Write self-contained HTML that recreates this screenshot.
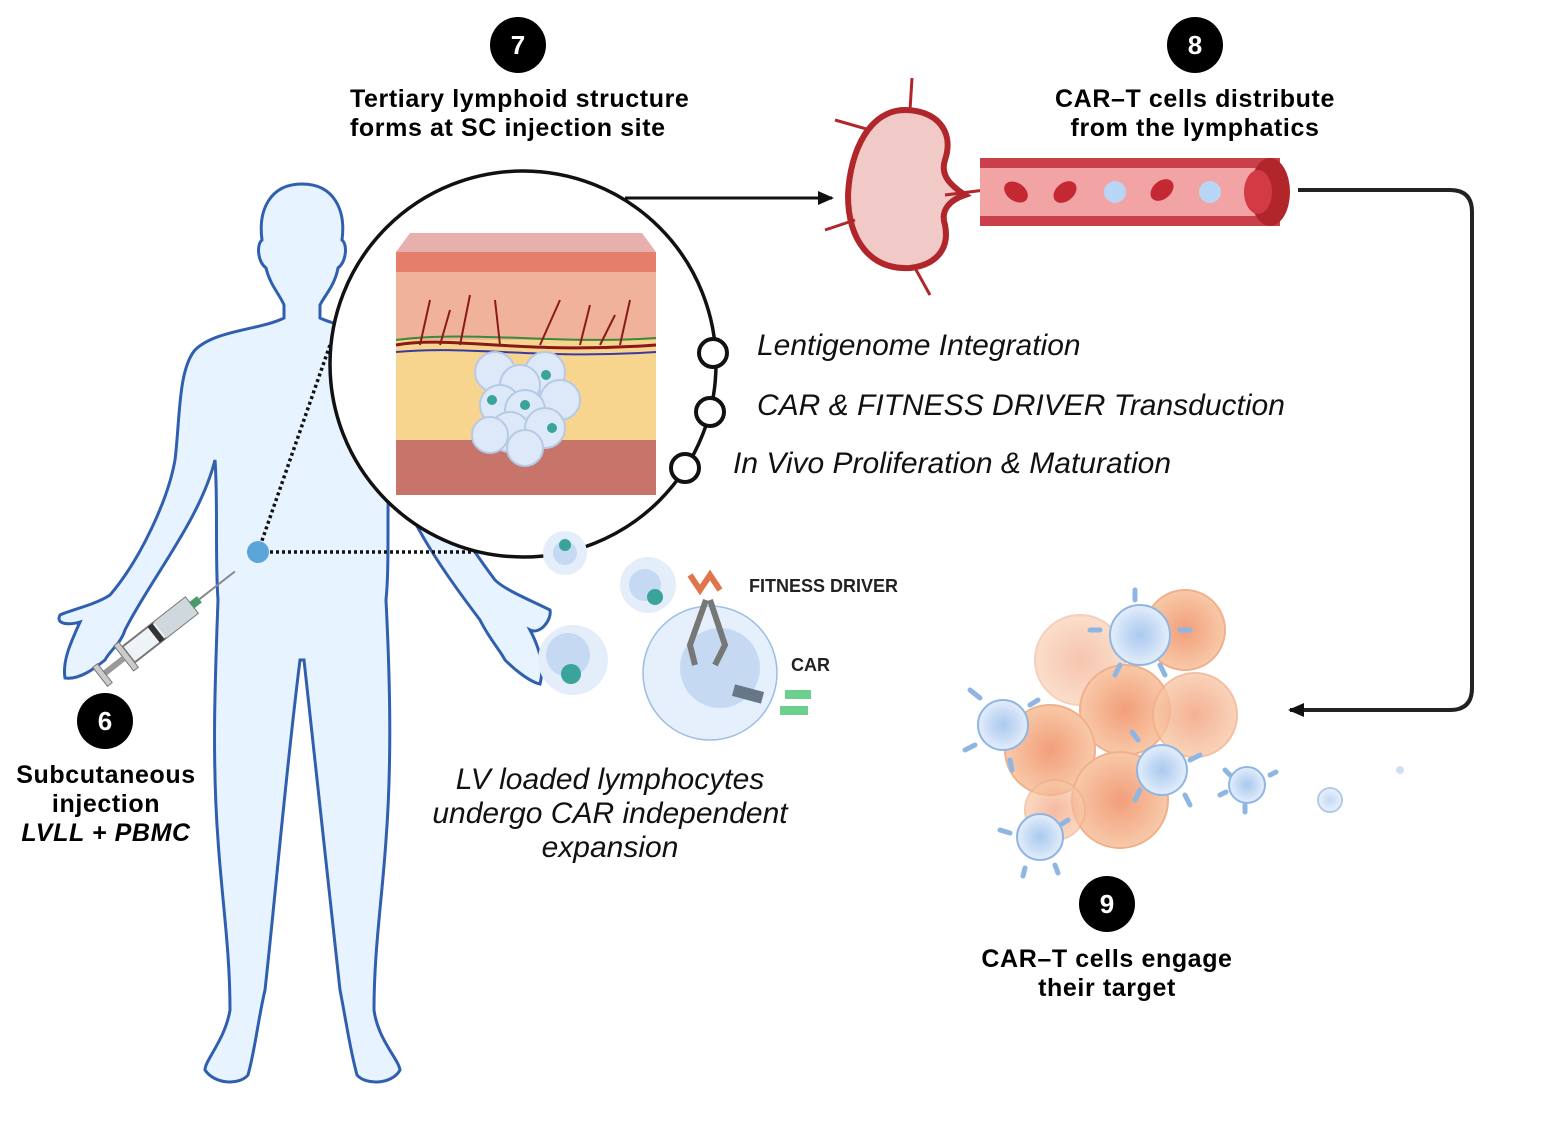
<!DOCTYPE html>
<html><head><meta charset="utf-8"><style>
html,body{margin:0;padding:0;background:#fff}
svg{display:block}
.b{font-family:"Liberation Sans",sans-serif;font-weight:bold;font-size:25px;letter-spacing:0.6px;fill:#000}
.i{font-family:"Liberation Sans",sans-serif;font-style:italic;font-size:30px;fill:#111}
.s{font-family:"Liberation Sans",sans-serif;font-weight:bold;font-size:18px;fill:#222}
</style></head><body>
<svg width="1547" height="1144" viewBox="0 0 1547 1144" xmlns="http://www.w3.org/2000/svg">
<defs>
<marker id="ah" markerWidth="16" markerHeight="14" refX="14" refY="7" orient="auto" markerUnits="userSpaceOnUse"><path d="M0,0 L16,7 L0,14 z" fill="#111"/></marker>
<radialGradient id="cell" cx="50%" cy="50%" r="50%"><stop offset="0" stop-color="#a9c9ef"/><stop offset="0.55" stop-color="#c8dcf5"/><stop offset="1" stop-color="#e4eefb"/></radialGradient>
<radialGradient id="tum" cx="50%" cy="50%" r="50%"><stop offset="0" stop-color="#f29e7a"/><stop offset="1" stop-color="#f8c9a8"/></radialGradient>
</defs>

<!-- body -->
<path d="M302,184 C270,184 258,210 262,240 C256,245 258,262 266,268 C270,285 280,295 284,305 L284,318 C260,330 215,330 195,350 C178,370 180,420 175,460 C168,500 140,560 110,595 C95,605 70,610 60,615 C55,625 70,625 80,622 C72,640 62,660 65,678 C80,680 95,668 105,660 C110,650 120,645 125,630 C150,580 200,520 215,460 C218,500 215,560 218,600 C215,680 212,760 218,840 C222,900 230,950 230,1010 C225,1040 205,1060 205,1070 C215,1085 240,1085 248,1075 C255,1050 258,1020 265,990 C275,900 285,780 300,660 L304,660 C318,780 330,900 340,990 C346,1020 350,1050 357,1075 C365,1085 392,1085 400,1070 C398,1058 378,1040 374,1010 C374,950 382,900 386,840 C392,760 390,680 386,600 C390,560 386,500 390,460 C405,520 450,580 480,620 C490,640 500,650 505,660 C515,670 530,682 540,684 C545,665 538,645 530,630 C540,635 552,620 550,610 C530,600 505,590 495,580 C465,540 440,500 430,460 C425,420 428,370 410,350 C390,330 345,330 320,318 L320,305 C325,295 335,285 338,268 C346,262 348,245 342,240 C346,210 334,184 302,184 Z" fill="#e7f3fe" stroke="#2f5fae" stroke-width="3"/>

<path d="M258,552 L475,552" stroke="#111" stroke-width="3.5" stroke-dasharray="3,3" fill="none"/>
<path d="M258,552 L330,345" stroke="#111" stroke-width="3.5" stroke-dasharray="3,3" fill="none"/>
<circle cx="258" cy="552" r="11" fill="#5aa6d8"/>

<g transform="translate(160,630) rotate(-38)">
<rect x="-40" y="-10" width="80" height="20" fill="#eef3f6" stroke="#777" stroke-width="2"/>
<rect x="0" y="-10" width="40" height="20" fill="#cfd8dc"/>
<rect x="-8" y="-10" width="6" height="20" fill="#333"/>
<rect x="40" y="-4" width="10" height="8" fill="#4a9a6a"/>
<line x1="50" y1="0" x2="95" y2="0" stroke="#888" stroke-width="2"/>
<rect x="-46" y="-16" width="6" height="32" fill="#ccc" stroke="#777"/>
<line x1="-46" y1="0" x2="-70" y2="0" stroke="#999" stroke-width="6"/>
<rect x="-76" y="-12" width="6" height="24" fill="#ccc" stroke="#777"/>
</g>

<circle cx="523" cy="364" r="193" fill="#fff" stroke="#111" stroke-width="3.5"/>
<polygon points="396,252 410,233 642,233 656,252" fill="#e8b0ad"/>
<rect x="396" y="252" width="260" height="243" fill="#f0b39a"/>
<rect x="396" y="252" width="260" height="20" fill="#e57f6c"/>
<rect x="396" y="340" width="260" height="100" fill="#f8d58f"/>
<rect x="396" y="440" width="260" height="55" fill="#c7746a"/>
<path d="M396,345 C450,335 520,355 656,345" stroke="#8a1a1a" stroke-width="3" fill="none"/>
<path d="M396,352 C470,345 540,360 656,352" stroke="#3a3aa0" stroke-width="2" fill="none"/>
<path d="M396,340 C470,330 560,345 656,338" stroke="#3b8a3b" stroke-width="2" fill="none"/>
<g stroke="#8a1a1a" stroke-width="2" fill="none">
<path d="M420,345 L430,300 M460,345 L470,295 M500,345 L495,300 M540,345 L560,300 M580,345 L590,305 M620,345 L630,300 M440,345 L450,310 M600,345 L615,315"/>
</g>
<g fill="#dde9f8" stroke="#b6c9e6" stroke-width="2">
<circle cx="495" cy="372" r="20"/><circle cx="545" cy="372" r="20"/><circle cx="520" cy="385" r="20"/>
<circle cx="500" cy="405" r="20"/><circle cx="560" cy="400" r="20"/><circle cx="525" cy="410" r="20"/>
<circle cx="510" cy="432" r="20"/><circle cx="545" cy="428" r="20"/><circle cx="490" cy="435" r="18"/><circle cx="525" cy="448" r="18"/>
</g>
<g fill="#3aa39a"><circle cx="546" cy="375" r="5"/><circle cx="492" cy="400" r="5"/><circle cx="525" cy="405" r="5"/><circle cx="552" cy="428" r="5"/></g>

<g fill="#fff" stroke="#111" stroke-width="4">
<circle cx="713" cy="353" r="14"/><circle cx="710" cy="412" r="14"/><circle cx="685" cy="468" r="14"/>
</g>
<text class="i" x="757" y="355">Lentigenome Integration</text>
<text class="i" x="757" y="415">CAR &amp; FITNESS DRIVER Transduction</text>
<text class="i" x="733" y="473">In Vivo Proliferation &amp; Maturation</text>

<g>
<circle cx="565" cy="553" r="22" fill="#e4eefb"/><circle cx="565" cy="553" r="12" fill="#c5d9f3"/><circle cx="565" cy="545" r="6" fill="#3aa39a"/>
<circle cx="648" cy="585" r="28" fill="#e4eefb"/><circle cx="645" cy="585" r="16" fill="#c5d9f3"/><circle cx="655" cy="597" r="8" fill="#3aa39a"/>
<circle cx="573" cy="660" r="35" fill="#e4eefb"/><circle cx="568" cy="655" r="22" fill="#c5d9f3"/><circle cx="571" cy="674" r="10" fill="#3aa39a"/>
<circle cx="710" cy="673" r="67" fill="#e6f0fc" stroke="#9cbde4" stroke-width="1.5"/>
<circle cx="720" cy="668" r="40" fill="#c5d9f3"/>
<path d="M706,600 L690,645 L695,665 M710,600 L725,645 L715,665" stroke="#777" stroke-width="6" fill="none"/>
<path d="M690,575 L700,590 L710,575 L720,590" stroke="#e0744a" stroke-width="6" fill="none"/>
<rect x="733" y="688" width="30" height="12" fill="#667788" transform="rotate(15 748 694)"/>
<rect x="785" y="690" width="26" height="9" fill="#6bcf8e"/><rect x="780" y="706" width="28" height="9" fill="#6bcf8e"/>
</g>
<text class="s" x="749" y="592">FITNESS DRIVER</text>
<text class="s" x="791" y="671">CAR</text>
<text class="i" x="610" y="789" text-anchor="middle">LV loaded lymphocytes</text>
<text class="i" x="610" y="823" text-anchor="middle">undergo CAR independent</text>
<text class="i" x="610" y="857" text-anchor="middle">expansion</text>

<line x1="625" y1="198" x2="832" y2="198" stroke="#111" stroke-width="3" marker-end="url(#ah)"/>

<path d="M905,110 C870,110 850,150 848,195 C848,240 870,270 910,268 C935,265 950,250 945,225 C940,210 950,200 965,195 C950,185 940,175 945,160 C955,130 935,110 905,110 Z" fill="#f1c9c6" stroke="#b0262a" stroke-width="6"/>
<g stroke="#b0262a" stroke-width="3" fill="none">
<path d="M910,110 L912,78 M870,130 L835,120 M855,220 L825,230 M915,268 L930,295 M945,195 L985,190"/>
</g>
<rect x="980" y="158" width="300" height="68" fill="#c9404a"/>
<rect x="980" y="168" width="300" height="48" fill="#f2a3a3"/>
<ellipse cx="1270" cy="192" rx="20" ry="34" fill="#b0262a"/>
<ellipse cx="1258" cy="192" rx="14" ry="22" fill="#d43a44"/>
<g fill="#c42833">
<ellipse cx="1016" cy="192" rx="13" ry="9" transform="rotate(35 1016 192)"/>
<ellipse cx="1065" cy="192" rx="13" ry="9" transform="rotate(-40 1065 192)"/>
<ellipse cx="1162" cy="190" rx="13" ry="9" transform="rotate(-40 1162 190)"/>
</g>
<circle cx="1115" cy="192" r="11" fill="#b9d5f5"/><circle cx="1210" cy="192" r="11" fill="#b9d5f5"/>

<path d="M1298,190 L1450,190 Q1472,190 1472,212 L1472,688 Q1472,710 1450,710 L1290,710" stroke="#222" stroke-width="4" fill="none" marker-end="url(#ah)"/>

<g fill="url(#tum)" stroke="#f0b08c" stroke-width="2">
<circle cx="1080" cy="660" r="45" opacity="0.6"/>
<circle cx="1185" cy="630" r="40"/>
<circle cx="1125" cy="710" r="45"/>
<circle cx="1195" cy="715" r="42" opacity="0.8"/>
<circle cx="1050" cy="750" r="45"/>
<circle cx="1120" cy="800" r="48"/>
<circle cx="1055" cy="810" r="30" opacity="0.7"/>
</g>
<g stroke="#8fb6e3" stroke-width="5" stroke-linecap="round">
<path d="M1135,590 L1135,600 M1100,630 L1090,630 M1180,630 L1190,630 M1120,665 L1115,675 M1160,665 L1165,675"/>
<path d="M970,690 L980,698 M975,745 L965,750 M1030,705 L1038,700 M1010,760 L1012,770"/>
<path d="M1138,740 L1132,732 M1190,760 L1200,755 M1140,790 L1135,800 M1185,795 L1190,805"/>
<path d="M1000,830 L1010,833 M1025,868 L1023,876 M1060,825 L1068,820 M1055,865 L1058,873"/>
<path d="M1225,770 L1230,775 M1270,775 L1276,772 M1245,805 L1245,812 M1220,795 L1226,792"/>
</g>
<g fill="url(#cell)" stroke="#8fb6e3" stroke-width="2">
<circle cx="1140" cy="635" r="30"/><circle cx="1003" cy="725" r="25"/><circle cx="1162" cy="770" r="25"/>
<circle cx="1040" cy="837" r="23"/><circle cx="1247" cy="785" r="18"/><circle cx="1330" cy="800" r="12" opacity="0.7"/>
</g>
<circle cx="1400" cy="770" r="4" fill="#cfe0f5"/>

<g fill="#000"><circle cx="518" cy="45" r="28"/><circle cx="1195" cy="45" r="28"/><circle cx="105" cy="721" r="28"/><circle cx="1107" cy="904" r="28"/></g>
<g font-family="Liberation Sans,sans-serif" font-weight="bold" font-size="26" fill="#fff" text-anchor="middle">
<text x="518" y="54">7</text><text x="1195" y="54">8</text><text x="105" y="730">6</text><text x="1107" y="913">9</text>
</g>

<text class="b" x="350" y="107">Tertiary lymphoid structure</text>
<text class="b" x="350" y="136">forms at SC injection site</text>
<text class="b" x="1195" y="107" text-anchor="middle">CAR–T cells distribute</text>
<text class="b" x="1195" y="136" text-anchor="middle">from the lymphatics</text>
<text class="b" x="106" y="783" text-anchor="middle">Subcutaneous</text>
<text class="b" x="106" y="812" text-anchor="middle">injection</text>
<text class="b" x="106" y="841" text-anchor="middle" font-style="italic">LVLL + PBMC</text>
<text class="b" x="1107" y="967" text-anchor="middle">CAR–T cells engage</text>
<text class="b" x="1107" y="996" text-anchor="middle">their target</text>
</svg>
</body></html>
